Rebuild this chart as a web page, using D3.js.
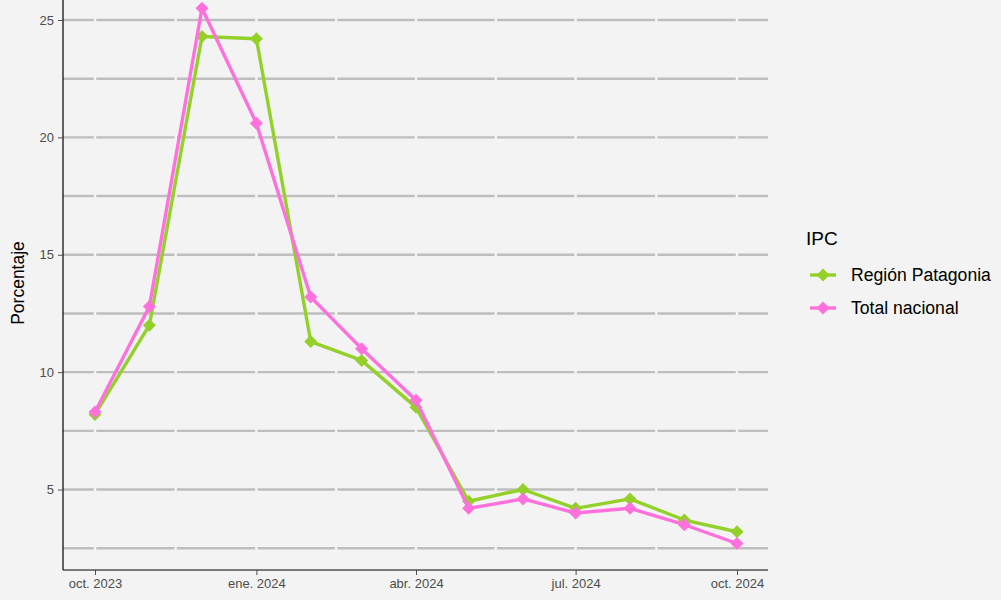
<!DOCTYPE html>
<html>
<head>
<meta charset="utf-8">
<script src="https://cdn.jsdelivr.net/npm/d3@7"></script>
<style>
  body { margin: 0; background: #f2f3f2; }
  text { font-family: "Liberation Sans", Arial, sans-serif; }
</style>
</head>
<body>
<script>
// monthly IPC variation, oct 2023 - oct 2024
const months = ["2023-10", "2023-11", "2023-12", "2024-01", "2024-02", "2024-03", "2024-04",
  "2024-05", "2024-06", "2024-07", "2024-08", "2024-09", "2024-10"];
const patagonia = [8.2, 12.0, 24.3, 24.2, 11.3, 10.5, 8.5, 4.5, 5.0, 4.2, 4.6, 3.7, 3.2];
const nacional = [8.3, 12.8, 25.5, 20.6, 13.2, 11.0, 8.8, 4.2, 4.6, 4.0, 4.2, 3.5, 2.7];
const seriesNames = ["Región Patagonia", "Total nacional"];
const seriesColors = ["#93d12a", "#ff70dd"];
const yTicks = [5, 10, 15, 20, 25];
const xTicks = ["2023-10", "2024-01", "2024-04", "2024-07", "2024-10"];
const xTickLabels = ["oct. 2023", "ene. 2024", "abr. 2024", "jul. 2024", "oct. 2024"];

const width = 1001, height = 600;
const panelLeft = 63, panelRight = 768, panelTop = 0, panelBottom = 570;
const parse = d3.timeParse("%Y-%m");

const svg = d3.select("body").append("svg")
  .attr("width", width)
  .attr("height", height);

svg.append("rect").attr("width", width).attr("height", height).attr("fill", "#f2f3f2");

const x = d3.scaleTime()
  .domain([parse("2023-10"), parse("2024-10")])
  .range([95, 737]);

const y = d3.scaleLinear()
  .domain([0, 25])
  .range([606.9, 20]);

// horizontal grid (major + minor)
const gridVals = d3.range(2.5, 26, 2.5);
svg.append("g").selectAll("line")
  .data(gridVals)
  .enter().append("line")
  .attr("x1", panelLeft).attr("x2", panelRight)
  .attr("y1", d => y(d)).attr("y2", d => y(d))
  .attr("stroke", "#bebebe")
  .attr("stroke-width", 2.4);

// vertical grid drawn in background colour (cuts the horizontal lines)
const xMajor = xTicks.map(parse);
const xMinor = d3.range(xMajor.length - 1).map(i => new Date((+xMajor[i] + +xMajor[i + 1]) / 2));
svg.append("g").selectAll("line")
  .data(xMajor.concat(xMinor))
  .enter().append("line")
  .attr("x1", d => x(d)).attr("x2", d => x(d))
  .attr("y1", panelTop).attr("y2", panelBottom)
  .attr("stroke", "#f2f3f2")
  .attr("stroke-width", 2.5);

// axes
const yAxis = svg.append("g")
  .attr("transform", `translate(${panelLeft},0)`)
  .call(d3.axisLeft(y).tickValues(yTicks).tickSize(5).tickPadding(4));
yAxis.select(".domain").attr("d", `M0,${panelTop}V${panelBottom}`).attr("stroke", "#000").attr("stroke-width", 1.2);
yAxis.selectAll(".tick line").attr("stroke", "#4d4d4d");
yAxis.selectAll(".tick text").attr("fill", "#4d4d4d").style("font-size", "13px");

const xAxis = svg.append("g")
  .attr("transform", `translate(0,${panelBottom})`)
  .call(d3.axisBottom(x).tickValues(xMajor).tickFormat((d, i) => xTickLabels[i]).tickSize(5).tickPadding(4));
xAxis.select(".domain").attr("d", `M${panelLeft},0H${panelRight}`).attr("stroke", "#000").attr("stroke-width", 1.2);
xAxis.selectAll(".tick line").attr("stroke", "#4d4d4d");
xAxis.selectAll(".tick text").attr("fill", "#4d4d4d").style("font-size", "13px");

svg.append("text")
  .attr("transform", "translate(24,283) rotate(-90)")
  .attr("text-anchor", "middle")
  .style("font-size", "17.5px")
  .attr("fill", "#000")
  .text("Porcentaje");

// series
const series = [patagonia, nacional].map((vals, i) => ({
  name: seriesNames[i],
  color: seriesColors[i],
  values: vals.map((v, j) => ({ date: parse(months[j]), value: v }))
}));

const line = d3.line().x(d => x(d.date)).y(d => y(d.value));
// square diamond (rotated square), as ggplot shape 18
const diamond = "M0,-6.5L6.5,0L0,6.5L-6.5,0Z";

series.forEach(s => {
  const g = svg.append("g");
  g.append("path")
    .datum(s.values)
    .attr("d", line)
    .attr("fill", "none")
    .attr("stroke", s.color)
    .attr("stroke-width", 3.4)
    .attr("stroke-linejoin", "round");
  g.selectAll("path.pt")
    .data(s.values)
    .enter().append("path")
    .attr("class", "pt")
    .attr("d", diamond)
    .attr("transform", d => `translate(${x(d.date)},${y(d.value)})`)
    .attr("fill", s.color);
});

// legend
const legend = svg.append("g").attr("transform", "translate(806,238)");
legend.append("text")
  .attr("y", 7)
  .style("font-size", "19px")
  .text("IPC");
series.forEach((s, i) => {
  const row = legend.append("g").attr("transform", `translate(0,${37 + i * 33})`);
  row.append("line")
    .attr("x1", 4).attr("x2", 30)
    .attr("stroke", s.color).attr("stroke-width", 3.4);
  row.append("path")
    .attr("d", diamond)
    .attr("transform", "translate(17,0)")
    .attr("fill", s.color);
  row.append("text")
    .attr("x", 45).attr("y", 6)
    .style("font-size", "17.6px")
    .text(s.name);
});
</script>
</body>
</html>
